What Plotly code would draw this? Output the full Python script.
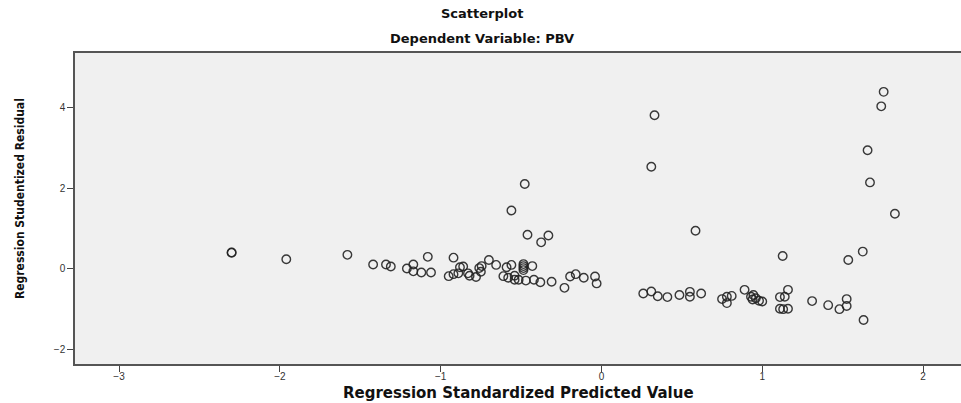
import plotly.graph_objects as go

# Regression Standardized Predicted Value (x) and Studentized Residual (y)
pred = [-2.30, -2.30, -1.96, -1.58, -1.42, -1.34, -1.31, -1.17, -1.21, -1.17,
        -1.12, -1.06, -1.08, -0.92, -0.95, -0.92, -0.89, -0.88, -0.86, -0.83,
        -0.82, -0.78, -0.76, -0.745, -0.75, -0.70, -0.655, -0.59, -0.56, -0.61,
        -0.58, -0.54, -0.54, -0.515, -0.485, -0.485, -0.485, -0.485, -0.43, -0.47,
        -0.42, -0.38, -0.31, -0.23, -0.195, -0.16, -0.11, -0.04, -0.03, -0.477,
        -0.56, -0.46, -0.33, -0.375, 0.26, 0.31, 0.35, 0.41, 0.485, 0.55,
        0.55, 0.62, 0.33, 0.31, 0.585, 0.75, 0.78, 0.81, 0.78, 0.89,
        0.93, 0.94, 0.96, 0.98, 1.00, 0.945, 1.11, 1.14, 1.16, 1.11,
        1.13, 1.16, 1.127, 1.31, 1.41, 1.525, 1.48, 1.525, 1.63, 1.535,
        1.625, 1.825, 1.67, 1.655, 1.74, 1.755]
resid = [0.41, 0.40, 0.24, 0.35, 0.11, 0.11, 0.06, 0.11, 0.01, -0.06,
         -0.09, -0.09, 0.30, 0.28, -0.18, -0.13, -0.11, 0.04, 0.06, -0.11,
         -0.17, -0.20, 0.02, 0.07, -0.07, 0.22, 0.10, 0.04, 0.10, -0.18,
         -0.22, -0.17, -0.27, -0.27, 0.12, 0.07, 0.02, -0.03, 0.07, -0.29,
         -0.27, -0.33, -0.32, -0.47, -0.19, -0.13, -0.22, -0.19, -0.36, 2.11,
         1.45, 0.85, 0.83, 0.66, -0.61, -0.56, -0.68, -0.70, -0.65, -0.57,
         -0.69, -0.61, 3.82, 2.54, 0.95, -0.75, -0.69, -0.67, -0.85, -0.52,
         -0.69, -0.76, -0.73, -0.79, -0.81, -0.65, -0.70, -0.69, -0.52, -0.99,
         -1.00, -0.99, 0.32, -0.80, -0.90, -0.75, -1.00, -0.92, -1.27, 0.22,
         0.43, 1.37, 2.15, 2.95, 4.04, 4.40]

x_ticks = [-3, -2, -1, 0, 1, 2]
y_ticks = [-2, 0, 2, 4]

title_main = "Scatterplot"
title_sub = "Dependent Variable: PBV"
x_title = "Regression Standardized Predicted Value"
y_title = "Regression Studentized Residual"

fig = go.Figure()
fig.add_trace(go.Scatter(
    x=pred, y=resid, mode="markers",
    marker=dict(symbol="circle-open", size=8.5, color="rgba(35,35,35,0.9)",
                line=dict(width=1.4, color="rgba(35,35,35,0.9)")),
    hoverinfo="skip", showlegend=False))

axis_font = dict(family="Liberation Sans, Arial, sans-serif", size=10, color="#333")
title_font = dict(family="DejaVu Sans, sans-serif", size=13, color="#111")
fig.update_layout(
    width=961, height=403,
    margin=dict(l=75, r=0, t=53, b=39),
    paper_bgcolor="white", plot_bgcolor="#f0f0f0",
    xaxis=dict(range=[-3.274, 2.236], tickvals=x_ticks, ticks="outside", ticklen=6,
               tickcolor="#444", tickwidth=1.2, showgrid=False, zeroline=False,
               showline=True, linecolor="#555", linewidth=1.5, mirror=True,
               tickfont=axis_font, ticklabelstandoff=-4),
    yaxis=dict(range=[-2.363, 5.366], tickvals=y_ticks, ticks="outside", ticklen=6,
               tickcolor="#444", tickwidth=1.2, showgrid=False, zeroline=False,
               showline=True, linecolor="#555", linewidth=1.5,
               tickfont=axis_font),
    annotations=[
        dict(text="<b>" + title_main + "</b>", xref="paper", yref="paper",
             x=0.4594, y=1.1286, xanchor="center", yanchor="middle", showarrow=False,
             font=title_font),
        dict(text="<b>" + title_sub + "</b>", xref="paper", yref="paper",
             x=0.4594, y=1.048, xanchor="center", yanchor="middle", showarrow=False,
             font=title_font),
        dict(text="<b>" + x_title + "</b>", xref="paper", yref="paper",
             x=0.5, y=-0.093, xanchor="center", yanchor="middle", showarrow=False,
             font=dict(family="DejaVu Sans, sans-serif", size=15, color="#111")),
        dict(text="<b>" + y_title + "</b>", xref="paper", yref="paper",
             x=-0.062, y=0.5305, xanchor="center", yanchor="middle", showarrow=False,
             textangle=-90,
             font=dict(family="Liberation Sans Narrow, DejaVu Sans Condensed, Arial Narrow, sans-serif",
                       size=12, color="#111")),
    ],
)

fig.write_html("out.html", config={"displayModeBar": False},
               post_script="document.body.style.margin='0';")
